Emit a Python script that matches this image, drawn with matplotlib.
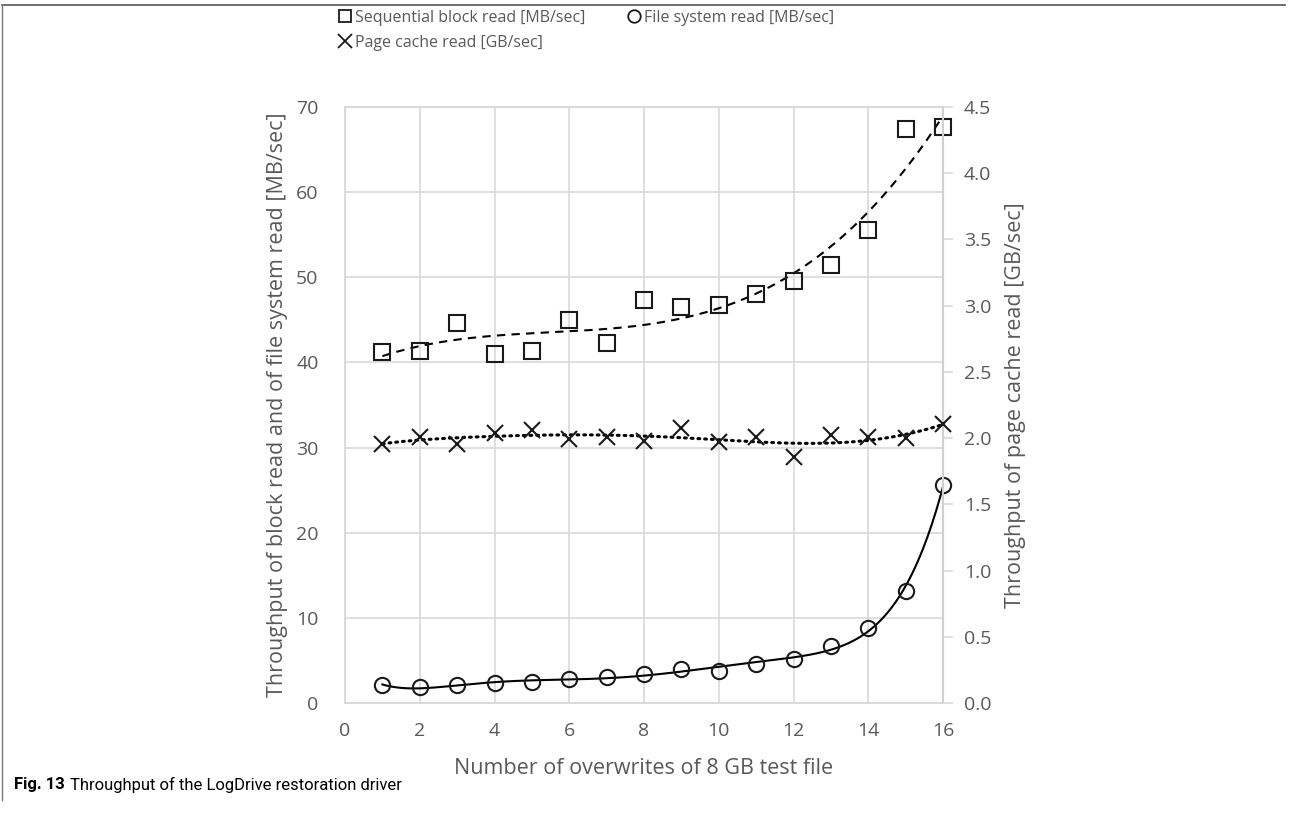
import numpy as np
import matplotlib
matplotlib.use("Agg")
import matplotlib.pyplot as plt
from matplotlib.lines import Line2D

# Data
overwrites = [1, 2, 3, 4, 5, 6, 7, 8, 9, 10, 11, 12, 13, 14, 15, 16]
block_read_mb = [41.2, 41.4, 44.6, 41.0, 41.4, 45.0, 42.3, 47.3, 46.5, 46.7, 48.0, 49.6, 51.5, 55.5, 67.4, 67.6]
fs_read_mb = [2.1, 1.9, 2.1, 2.3, 2.5, 2.8, 3.0, 3.4, 4.0, 3.8, 4.6, 5.2, 6.7, 8.8, 13.1, 25.6]
page_cache_gb = [1.955, 2.005, 1.955, 2.04, 2.065, 1.99, 2.005, 1.98, 2.08, 1.97, 2.005, 1.86, 2.02, 2.005, 2.0, 2.11]

xticks = [0, 2, 4, 6, 8, 10, 12, 14, 16]
left_ticks = [0, 10, 20, 30, 40, 50, 60, 70]
right_ticks = [0.0, 0.5, 1.0, 1.5, 2.0, 2.5, 3.0, 3.5, 4.0, 4.5]

FONT = ["Open Sans", "DejaVu Sans"]
TXT = "#595959"
GRID = "#d9d9d9"

plt.rcParams["font.family"] = FONT

fig = plt.figure(figsize=(12.89, 8.19), dpi=100)
ax = fig.add_axes([345/1289, 1-703/819, (943-345)/1289, (703-107)/819])
ax2 = ax.twinx()

x = np.array(overwrites, dtype=float)
xs = np.linspace(1, 16, 400)

def fit(y, deg):
    c = np.polyfit(x, np.array(y, dtype=float), deg)
    return np.polyval(c, xs)

# trendlines
ax.plot(xs, fit(block_read_mb, 3), color="black", lw=1.5, ls=(0, (4, 3)), zorder=3)
ax.plot(xs, fit(fs_read_mb, 6), color="black", lw=1.5, ls="-", zorder=3)
ax2.plot(xs, fit(page_cache_gb, 6), color="black", lw=2.2, ls=(0, (0.6, 1.6)),
         dash_capstyle="round", zorder=3)

# markers
ax.plot(x, block_read_mb, ls="none", marker="s", ms=11, mfc="none", mec="#1a1a1a", mew=1.5, zorder=4, clip_on=False)
ax.plot(x, fs_read_mb, ls="none", marker="o", ms=11, mfc="none", mec="#1a1a1a", mew=1.5, zorder=4, clip_on=False)
ax2.plot(x, page_cache_gb, ls="none", marker="x", ms=11, mec="#1a1a1a", mew=1.5, zorder=4, clip_on=False)

ax.set_xlim(0, 16)
ax.set_ylim(0, 70)
ax2.set_ylim(0, 4.5)
ax.set_xticks(xticks)
ax.set_yticks(left_ticks)
ax2.set_yticks(right_ticks)
ax2.set_yticklabels([f"{v:.1f}" for v in right_ticks])

ax.grid(True, color=GRID, lw=1.2)
ax.set_axisbelow(True)
for a in (ax, ax2):
    for s in a.spines.values():
        s.set_color(GRID)
        s.set_linewidth(1.2)
ax2.spines["right"].set_color("#d0d0d0")
ax2.spines["right"].set_linewidth(1.5)

ax.tick_params(axis="y", length=0, labelsize=14, labelcolor=TXT, pad=19)
ax.tick_params(axis="x", length=0, labelsize=14, labelcolor=TXT, pad=14)
ax2.tick_params(axis="y", length=7, width=1.2, color=GRID, labelsize=14, labelcolor=TXT, pad=8)

ax.set_xlabel("Number of overwrites of 8 GB test file", fontsize=15.5, color=TXT, labelpad=13)
ax.set_ylabel("Throughput of block read and of file system read [MB/sec]", fontsize=15.5, color=TXT, labelpad=6)
ax2.set_ylabel("Throughput of page cache read [GB/sec]", fontsize=15.5, color=TXT, labelpad=10)

# legend
h_sq = Line2D([], [], ls="none", marker="s", ms=9, mfc="none", mec="#1a1a1a", mew=1.3)
h_ci = Line2D([], [], ls="none", marker="o", ms=9, mfc="none", mec="#1a1a1a", mew=1.3)
h_x = Line2D([], [], ls="none", marker="x", ms=10, mec="#1a1a1a", mew=1.3)
leg = fig.legend([h_sq, h_x, h_ci],
                 ["Sequential block read [MB/sec]", "Page cache read [GB/sec]", "File system read [MB/sec]"],
                 ncol=2, loc="upper left", bbox_to_anchor=(339/1289, 1-10/819),
                 frameon=False, fontsize=11.5, handlelength=0.7, handletextpad=0.3,
                 columnspacing=2.7, labelspacing=0.55, borderaxespad=0, borderpad=0)
for t in leg.get_texts():
    t.set_color(TXT)

# caption
CAP_FONT = ["Roboto", "DejaVu Sans"]
t1 = fig.text(14/1289, 1-785/819, "Fig. 13", fontsize=12, fontweight="bold",
              family=CAP_FONT, va="center", ha="left", color="black")
fig.canvas.draw()
bb = t1.get_window_extent(renderer=fig.canvas.get_renderer())
fig.text((bb.x1 + 5)/1289, 1-785/819, "Throughput of the LogDrive restoration driver", fontsize=12,
         family=CAP_FONT, va="center", ha="left", color="black")

# figure frame (top and left border)
fig.add_artist(Line2D([2/1289, 1285/1289], [1-5/819, 1-5/819], color="#555555", lw=1.2, transform=fig.transFigure))
fig.add_artist(Line2D([2/1289, 2/1289], [1-5/819, 1-800/819], color="#777777", lw=1.0, transform=fig.transFigure))

fig.savefig("out.png", dpi=100)
